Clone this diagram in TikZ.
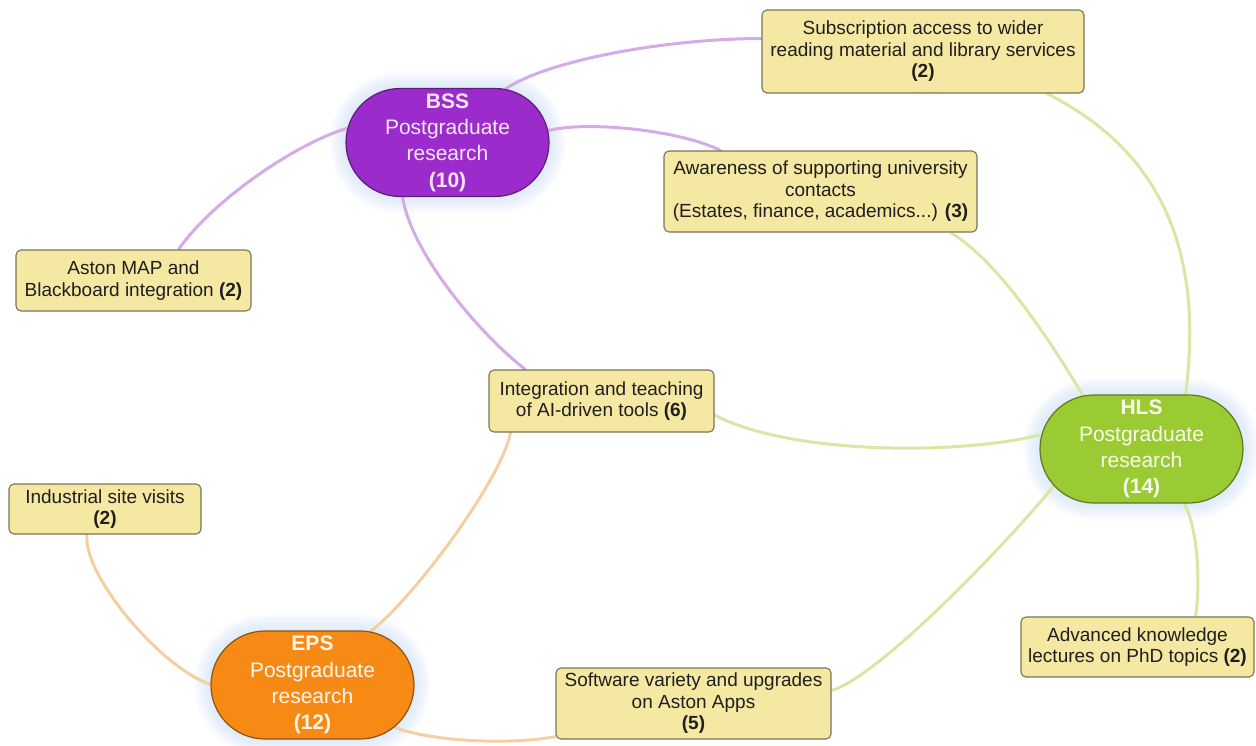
\documentclass[tikz,border=0pt]{standalone}
\usepackage{fontspec}
\setmainfont{Liberation Sans}
\pgfdeclarelayer{background}
\pgfsetlayers{background,main}

\definecolor{boxfill}{HTML}{F5E8A2}
\definecolor{boxline}{HTML}{7D7356}
\definecolor{bssfill}{HTML}{9B2BCB}
\definecolor{bssline}{HTML}{5E1D7C}
\definecolor{bsstext}{HTML}{FCE6F6}
\definecolor{hlsfill}{HTML}{9ACB33}
\definecolor{hlsline}{HTML}{5C7A22}
\definecolor{hlstext}{HTML}{F8FBEA}
\definecolor{epsfill}{HTML}{F68A14}
\definecolor{epsline}{HTML}{8E520F}
\definecolor{epstext}{HTML}{FFF6EA}
\definecolor{plinkc}{HTML}{D4ABE8}
\definecolor{glinkc}{HTML}{D9E7A4}
\definecolor{olinkc}{HTML}{F5CFA2}
\definecolor{glowc}{HTML}{BCD2F2}

\begin{document}
\begin{tikzpicture}[x=1pt,y=-1pt,
  topic/.style={draw=boxline, fill=boxfill, rounded corners=5pt, line width=1.1pt,
    align=center, inner sep=0pt, text=black!88,
    font=\fontsize{19}{21.5}\selectfont},
  hub/.style={rounded corners=54pt, line width=1.2pt, align=center, inner sep=0pt,
    minimum width=203pt, minimum height=108pt,
    font=\fontsize{21}{26.3}\selectfont},
  link/.style={line width=3pt, line cap=round},
  plink/.style={link, draw=plinkc},
  glink/.style={link, draw=glinkc},
  olink/.style={link, draw=olinkc},
]
\useasboundingbox (0,0) rectangle (1256,745);

% hubs
\node[hub, fill=bssfill, draw=bssline, text=bsstext] (bss) at (447.5,142.5)
  {\textbf{BSS}\\Postgraduate\\research\\\textbf{(10)}};
\node[hub, fill=hlsfill, draw=hlsline, text=hlstext] (hls) at (1141.5,449)
  {\textbf{HLS}\\Postgraduate\\research\\\textbf{(14)}};
\node[hub, fill=epsfill, draw=epsline, text=epstext] (eps) at (312.5,685)
  {\textbf{EPS}\\Postgraduate\\research\\\textbf{(12)}};

% topics
\node[topic, minimum width=322pt, minimum height=83pt] (sub) at (923,51.5)
  {Subscription access to wider\\reading material and library services\\\textbf{(2)}};
\node[topic, minimum width=313pt, minimum height=81pt] (aware) at (820.5,191.5)
  {Awareness of supporting university\\contacts\\(Estates, finance, academics...) \textbf{(3)}};
\node[topic, minimum width=235pt, minimum height=61pt] (aston) at (133.5,280.5)
  {Aston MAP and\\Blackboard integration \textbf{(2)}};
\node[topic, minimum width=225pt, minimum height=62pt] (integ) at (601.5,401)
  {Integration and teaching\\of AI-driven tools \textbf{(6)}};
\node[topic, minimum width=192pt, minimum height=50pt] (indus) at (105,509)
  {Industrial site visits\\\textbf{(2)}};
\node[topic, minimum width=233pt, minimum height=60pt] (adv) at (1137.5,647)
  {Advanced knowledge\\lectures on PhD topics \textbf{(2)}};
\node[topic, minimum width=275pt, minimum height=71pt] (soft) at (693.5,703.5)
  {Software variety and upgrades\\on Aston Apps\\\textbf{(5)}};

\begin{pgfonlayer}{background}
  % soft halo around the hubs
  \foreach \h in {bss,hls,eps}{
    \foreach \g in {2,4,...,16}{
      \fill[glowc, opacity=0.07, rounded corners=54pt+\g pt]
        ([shift={(-\g,-\g)}]\h.north west) rectangle ([shift={(\g,\g)}]\h.south east);
    }
  }

  % BSS links
  \draw[plink] ([shift={(58,1)}]bss.north) .. controls +(45,-30) and +(-90,0) .. ([shift={(0,-13)}]sub.west);
  \draw[plink] ([shift={(-1,-12)}]bss.east) .. controls +(40,-10) and +(-40,-20) .. ([shift={(-100,0)}]aware.north);
  \draw[plink] ([shift={(1,-14)}]bss.west) .. controls +(-50,15) and +(35,-50) .. ([shift={(45,0)}]aston.north);
  \draw[plink] ([shift={(-45,0)}]bss.south) .. controls +(10,60) and +(-40,-30) .. ([shift={(-76,0)}]integ.north);

  % HLS links
  \draw[glink] ([shift={(44,1)}]hls.north) .. controls +(19,-146) and +(113,57) .. ([shift={(124,0)}]sub.south);
  \draw[glink] ([shift={(-58,2)}]hls.north) .. controls +(-30,-50) and +(50,30) .. ([shift={(130,0)}]aware.south);
  \draw[glink] ([shift={(0,-14)}]hls.west) .. controls +(-80,20) and +(76,40) .. ([shift={(0,14)}]integ.east);
  \draw[glink] ([shift={(42,-1)}]hls.south) .. controls +(15,25) and +(5,-30) .. ([shift={(58,0)}]adv.north);
  \draw[glink] ([shift={(15,36)}]hls.west) .. controls +(-40,50) and +(50,-15) .. ([shift={(0,-13)}]soft.east);

  % EPS links
  \draw[olink] ([shift={(2,0)}]eps.west) .. controls +(-50,-15) and +(-5,40) .. ([shift={(-18,0)}]indus.south);
  \draw[olink] ([shift={(58,1)}]eps.north) .. controls +(40,-30) and +(-10,50) .. ([shift={(-91,0)}]integ.south);
  \draw[olink] ([shift={(83,-12)}]eps.south) .. controls +(40,15) and +(-40,8) .. ([shift={(0,33)}]soft.west);
\end{pgfonlayer}
\end{tikzpicture}
\end{document}
